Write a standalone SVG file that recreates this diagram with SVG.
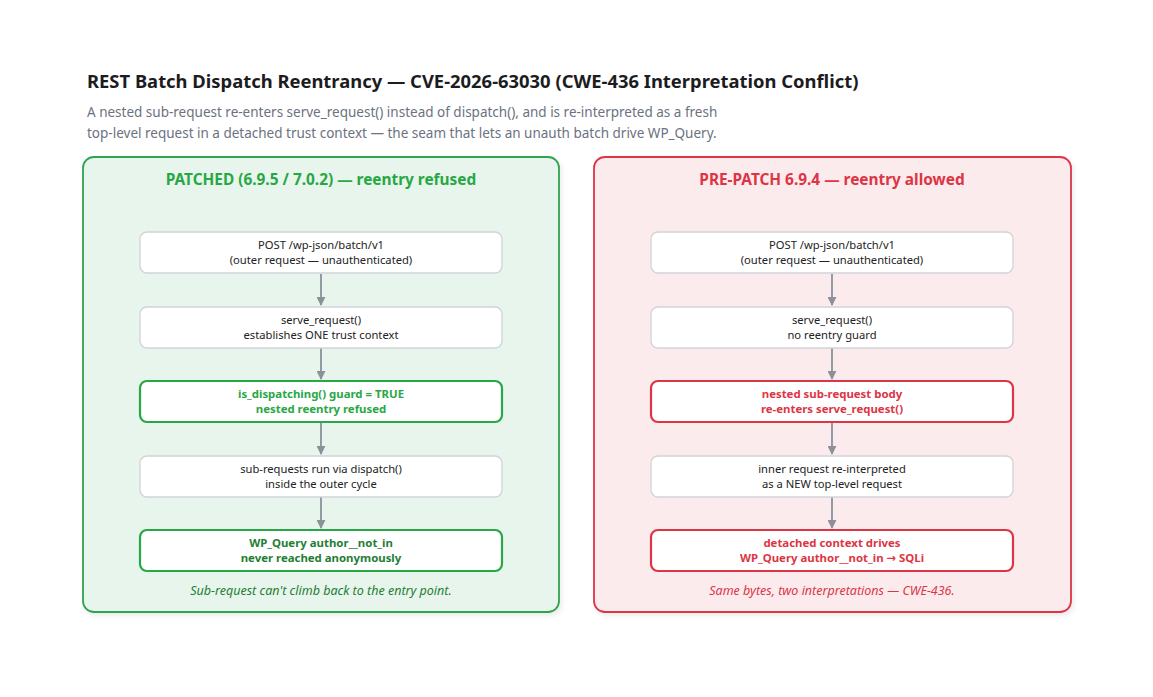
<svg xmlns="http://www.w3.org/2000/svg" width="1153" height="697" viewBox="0 0 1153 697">
<defs>
<marker id="arr" viewBox="0 0 10 10" refX="9" refY="5" markerWidth="5" markerHeight="5" orient="auto" markerUnits="strokeWidth">
<path d="M0,0 L10,5 L0,10 z" fill="#8b9199"/>
</marker>
<filter id="sh" x="-5%" y="-5%" width="110%" height="110%">
<feDropShadow dx="2" dy="3" stdDeviation="2.5" flood-color="#000" flood-opacity="0.08"/>
</filter>
<style>
text{font-family:"Noto Sans","Open Sans","DejaVu Sans",sans-serif}
.title{font-size:18.4px;font-weight:bold;fill:#1c1c1e}
.sub{font-size:13.5px;fill:#6b7280}
.ptitle{font-size:15.4px;font-weight:bold;text-anchor:middle}
.node{fill:#fff;stroke:#cfd4d9;stroke-width:1.3}
.nt{font-size:11.2px;fill:#222;text-anchor:middle}
.bt{font-size:11.4px;font-weight:bold;text-anchor:middle}
.foot{font-size:12.5px;font-style:italic;text-anchor:middle}
.conn line{stroke:#8b9199;stroke-width:1.8;marker-end:url(#arr)}
</style>
</defs>
<rect width="1153" height="697" fill="#fff"/>
<g id="header">
<text class="title" x="87" y="88">REST Batch Dispatch Reentrancy — CVE-2026-63030 (CWE-436 Interpretation Conflict)</text>
<text class="sub" x="87" y="117">A nested sub-request re-enters serve_request() instead of dispatch(), and is re-interpreted as a fresh</text>
<text class="sub" x="87" y="138">top-level request in a detached trust context — the seam that lets an unauth batch drive WP_Query.</text>
</g>
<g id="panel-patched">
<rect x="83" y="157" width="476" height="455" rx="11" fill="#e8f5ec" stroke="#2ea44f" stroke-width="1.8" filter="url(#sh)"/>
<text class="ptitle" x="321" y="185" fill="#28a745">PATCHED (6.9.5 / 7.0.2) — reentry refused</text>
<text class="foot" x="321" y="595" fill="#1e7e34">Sub-request can't climb back to the entry point.</text>
</g>
<g id="panel-prepatch">
<rect x="594" y="157" width="477" height="455" rx="11" fill="#fcebed" stroke="#dc3545" stroke-width="1.8" filter="url(#sh)"/>
<text class="ptitle" x="832" y="185" fill="#dc3545">PRE-PATCH 6.9.4 — reentry allowed</text>
<text class="foot" x="832" y="595" fill="#dc3545">Same bytes, two interpretations — CWE-436.</text>
</g>
<g class="conn" id="connectors">
<line x1="321" y1="274" x2="321" y2="305"/>
<line x1="321" y1="348" x2="321" y2="379"/>
<line x1="321" y1="423" x2="321" y2="454"/>
<line x1="321" y1="497" x2="321" y2="528"/>
<line x1="832" y1="274" x2="832" y2="305"/>
<line x1="832" y1="348" x2="832" y2="379"/>
<line x1="832" y1="423" x2="832" y2="454"/>
<line x1="832" y1="497" x2="832" y2="528"/>
</g>
<g id="L1"><rect class="node" x="140" y="232" width="362" height="41" rx="7"/><text class="nt" x="321" y="249">POST /wp-json/batch/v1</text><text class="nt" x="321" y="264">(outer request — unauthenticated)</text></g>
<g id="L2"><rect class="node" x="140" y="307" width="362" height="41" rx="7"/><text class="nt" x="321" y="324">serve_request()</text><text class="nt" x="321" y="339">establishes ONE trust context</text></g>
<g id="L3"><rect x="140" y="381" width="362" height="41" rx="7" fill="#fff" stroke="#28a745" stroke-width="2.2"/><text class="bt" x="321" y="398" fill="#28a745">is_dispatching() guard = TRUE</text><text class="bt" x="321" y="413" fill="#28a745">nested reentry refused</text></g>
<g id="L4"><rect class="node" x="140" y="456" width="362" height="41" rx="7"/><text class="nt" x="321" y="473">sub-requests run via dispatch()</text><text class="nt" x="321" y="488">inside the outer cycle</text></g>
<g id="L5"><rect x="140" y="530" width="362" height="41" rx="7" fill="#fff" stroke="#28a745" stroke-width="2.2"/><text class="bt" x="321" y="547" fill="#1e7e34">WP_Query author__not_in</text><text class="bt" x="321" y="562" fill="#1e7e34">never reached anonymously</text></g>
<g id="R1"><rect class="node" x="651" y="232" width="362" height="41" rx="7"/><text class="nt" x="832" y="249">POST /wp-json/batch/v1</text><text class="nt" x="832" y="264">(outer request — unauthenticated)</text></g>
<g id="R2"><rect class="node" x="651" y="307" width="362" height="41" rx="7"/><text class="nt" x="832" y="324">serve_request()</text><text class="nt" x="832" y="339">no reentry guard</text></g>
<g id="R3"><rect x="651" y="381" width="362" height="41" rx="7" fill="#fff" stroke="#dc3545" stroke-width="2.2"/><text class="bt" x="832" y="398" fill="#dc3545">nested sub-request body</text><text class="bt" x="832" y="413" fill="#dc3545">re-enters serve_request()</text></g>
<g id="R4"><rect class="node" x="651" y="456" width="362" height="41" rx="7"/><text class="nt" x="832" y="473">inner request re-interpreted</text><text class="nt" x="832" y="488">as a NEW top-level request</text></g>
<g id="R5"><rect x="651" y="530" width="362" height="41" rx="7" fill="#fff" stroke="#dc3545" stroke-width="2.2"/><text class="bt" x="832" y="547" fill="#dc3545">detached context drives</text><text class="bt" x="832" y="562" fill="#dc3545">WP_Query author__not_in → SQLi</text></g>
</svg>
